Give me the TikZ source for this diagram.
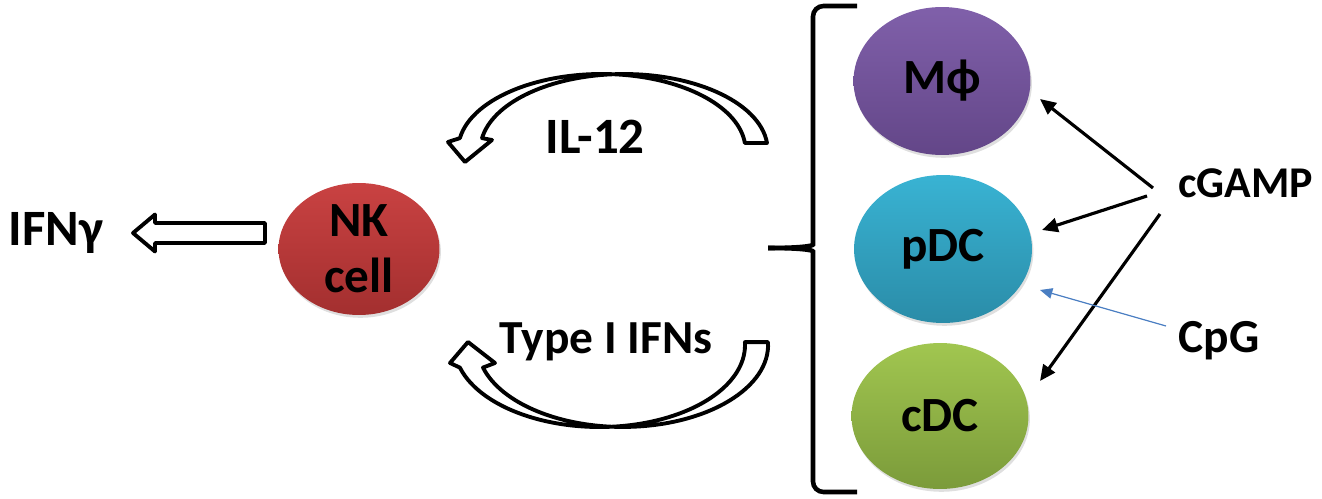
\documentclass[tikz,border=0pt]{standalone}
\usepackage{fontspec}
\setmainfont{Carlito}
\usetikzlibrary{arrows.meta,shapes.geometric,shadows}

\definecolor{nkred}{HTML}{C94242}
\definecolor{nkdark}{HTML}{A32F2F}
\definecolor{mphitop}{HTML}{8060AA}
\definecolor{mphibot}{HTML}{634688}
\definecolor{pdctop}{HTML}{39B3D3}
\definecolor{pdcbot}{HTML}{2A8CA8}
\definecolor{cdctop}{HTML}{A1C650}
\definecolor{cdcbot}{HTML}{7B9B3A}
\definecolor{cpgblue}{HTML}{4A7EC2}

\tikzset{
  cell/.style={ellipse, inner sep=0pt, align=center,
    font=\bfseries\fontsize{28}{32}\selectfont,
    drop shadow={opacity=0.25, shadow xshift=0.8pt, shadow yshift=-1.6pt}},
  lbl/.style={font=\bfseries\fontsize{27}{30}\selectfont, anchor=base},
  hollow/.style={draw, fill=white, line width=2.2pt, line join=round},
  brace/.style={line width=2.6pt, rounded corners=6pt},
  push/.style={-{Triangle[length=9pt,width=8pt]}, line width=1.8pt},
  cpgpush/.style={-{Triangle[length=7pt,width=6pt]}, line width=0.7pt, cpgblue}
}

\begin{document}
\begin{tikzpicture}[x=0.02cm, y=0.02cm]
	\useasboundingbox (0,0) rectangle (1322,498);

	% cells
	\node[cell, minimum width=3.22cm, minimum height=2.64cm, top color=nkred, bottom color=nkdark] (nk) at (359,249) {NK\\cell};
	\node[cell, minimum width=3.54cm, minimum height=2.96cm, top color=mphitop, bottom color=mphibot] (mphi) at (942,417) {Mϕ};
	\node[cell, minimum width=3.56cm, minimum height=2.96cm, top color=pdctop, bottom color=pdcbot] (pdc) at (943,249) {pDC};
	\node[cell, minimum width=3.54cm, minimum height=2.92cm, top color=cdctop, bottom color=cdcbot] (cdc) at (940,82) {cDC};

	% labels
	\node[lbl, font=\bfseries\fontsize{29}{30}\selectfont] (ifng) at (56,253) {IFNγ};
	\node[lbl, font=\bfseries\fontsize{29}{30}\selectfont] (il) at (595,345) {IL-12};
	\node[lbl] (ifns) at (606,145) {Type I IFNs};
	\node[lbl, font=\bfseries\fontsize{25}{30}\selectfont] (cgamp) at (1246,301) {cGAMP};
	\node[lbl] (cpg) at (1219,146) {CpG};

	% IFNg out of NK cell
	\coordinate (tipI) at (133,265);
	\draw[hollow] (tipI) -- ++(22,18.5) -- ++(0,-8.5) -- ++(110,0) -- ++(0,-20) -- ++(-110,0) -- ++(0,-8.5) -- cycle;

	% curved arrows
	\draw[hollow] (767,355) arc[start angle=5.3, end angle=171, x radius=2.874cm, y radius=1.52cm]
		-- (492,358) -- (465,336) -- (448,356) -- (459.9,359.9)
		arc[start angle=171, end angle=5.3, x radius=2.874cm, y radius=1.52cm] -- cycle;
	\draw[hollow] (768,155.9) arc[start angle=2, end angle=-164, x radius=2.908cm, y radius=1.64cm]
		-- (495,135) -- (468,156) -- (450,135) -- (459.9,130.4)
		arc[start angle=-164, end angle=2, x radius=2.908cm, y radius=1.64cm] -- cycle;

	% brace
	\draw[brace] (857,492) -- (813,492) -- (813,264) .. controls (813,252) and (800,250) .. (768,250);
	\draw[brace] (857,6) -- (813,6) -- (813,236) .. controls (813,248) and (800,250) .. (768,250);

	% stimuli
	\coordinate (g1) at (1153,310);
	\coordinate (g2) at (1147,302);
	\coordinate (g3) at (1160,284);
	\coordinate (p1) at (1166,172);
	\coordinate (toM) at (1040,399);
	\coordinate (toP) at (1042,268);
	\coordinate (toC) at (1040,117);
	\coordinate (toPb) at (1040,208);
	\draw[push] (g1) -- (toM);
	\draw[push] (g2) -- (toP);
	\draw[push] (g3) -- (toC);
	\draw[cpgpush] (p1) -- (toPb);
\end{tikzpicture}
\end{document}
